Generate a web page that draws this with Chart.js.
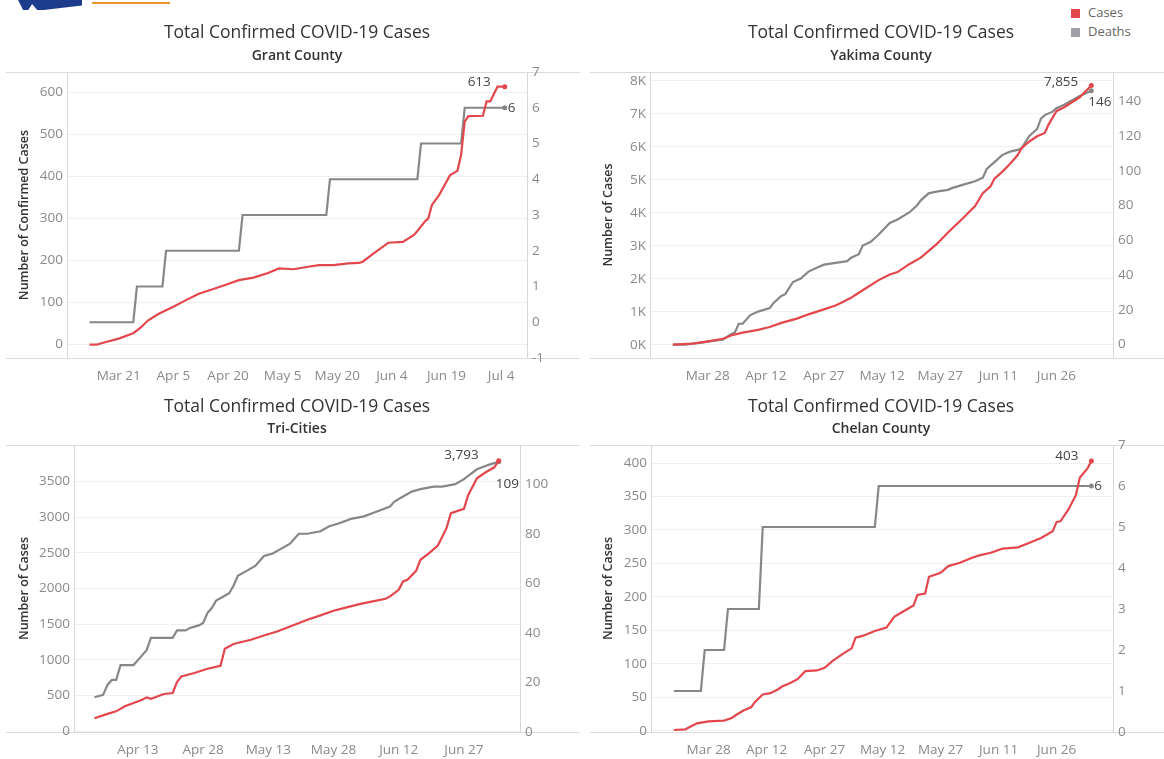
<!DOCTYPE html>
<html>
<head>
<meta charset="utf-8">
<title>Total Confirmed COVID-19 Cases</title>
<script src="https://cdn.jsdelivr.net/npm/chart.js@4.4.1/dist/chart.umd.min.js"></script>
<style>
  body { margin: 0; background: #fff; font-family: "Open Sans", sans-serif; }
  #page { position: relative; width: 1164px; height: 759px; overflow: hidden; background: #fff; }
  .panel { position: absolute; width: 580px; }
  .logo-blue { position: absolute; left: 18px; top: 0; width: 64px; height: 10px; background: #1d3c8c;
    clip-path: polygon(0 0, 100% 0, 100% 55%, 40% 100%, 30% 100%, 22% 40%, 16% 100%, 8% 100%); }
  .logo-orange { position: absolute; left: 92px; top: 2px; width: 78px; height: 2px; background: #e8942f; }
  #legend { position: absolute; left: 1071px; top: 3px; font-size: 13px; color: #666; line-height: 19px; }
  #legend .sw { display: inline-block; width: 9px; height: 9px; margin-right: 8px; vertical-align: -1px; }
</style>
</head>
<body>
<div id="page">
  <div class="logo-blue"></div>
  <div class="logo-orange"></div>
  <div id="legend">
    <div><span class="sw" style="background:#e2474d"></span>Cases</div>
    <div><span class="sw" style="background:#a0a0a8"></span>Deaths</div>
  </div>
  <div class="panel" style="left:0;top:0;height:390px"><canvas id="grantChart"></canvas></div>
  <div class="panel" style="left:584px;top:0;height:390px"><canvas id="yakimaChart"></canvas></div>
  <div class="panel" style="left:0;top:390px;height:369px"><canvas id="triChart"></canvas></div>
  <div class="panel" style="left:584px;top:390px;height:369px"><canvas id="chelanChart"></canvas></div>
</div>

<script>
// Grant County
const grantCaseDates = ["Mar 13", "Mar 15", "Mar 17", "Mar 21", "Mar 25", "Mar 27", "Mar 29", "Apr 1", "Apr 5", "Apr 9",
  "Apr 12", "Apr 16", "Apr 20", "Apr 23", "Apr 27", "May 1", "May 4", "May 8", "May 12", "May 15",
  "May 19", "May 23", "May 26", "May 27", "May 30", "Jun 3", "Jun 7", "Jun 10", "Jun 11", "Jun 13",
  "Jun 14", "Jun 15", "Jun 17", "Jun 20", "Jun 22", "Jun 23", "Jun 24", "Jun 25", "Jun 29", "Jun 30",
  "Jul 1", "Jul 3", "Jul 5"];
const grantCases = [0, 0, 5, 14, 27, 40, 57, 73, 90, 108,
  121, 132, 144, 153, 159, 170, 181, 179, 185, 189,
  189, 193, 194, 197, 217, 242, 244, 260, 270, 292,
  300, 332, 356, 403, 413, 451, 530, 543, 544, 578,
  578, 613, 613];
const grantDeathDates = ["Mar 13", "Mar 25", "Mar 26", "Apr 2", "Apr 3", "Apr 23", "Apr 24", "May 17", "May 18",
  "Jun 11", "Jun 12", "Jun 23", "Jun 24", "Jul 5"];
const grantDeaths = [0, 0, 1, 1, 2, 2, 3, 3, 4, 4, 5, 5, 6, 6];
const grantDateTicks = ["Mar 21", "Apr 5", "Apr 20", "May 5", "May 20", "Jun 4", "Jun 19", "Jul 4"];
const grantCaseTicks = [0, 100, 200, 300, 400, 500, 600];
const grantDeathTicks = [-1, 0, 1, 2, 3, 4, 5, 6, 7];

// Yakima County
const yakimaCaseDates = ["Mar 19", "Mar 24", "Mar 28", "Apr 1", "Apr 3", "Apr 6", "Apr 10", "Apr 13", "Apr 16", "Apr 20",
  "Apr 23", "Apr 27", "Apr 30", "May 2", "May 4", "May 5", "May 7", "May 11", "May 14", "May 16",
  "May 19", "May 22", "May 26", "May 29", "Jun 2", "Jun 5", "Jun 7", "Jun 9", "Jun 10", "Jun 12",
  "Jun 14", "Jun 16", "Jun 17", "Jun 19", "Jun 21", "Jun 23", "Jun 24", "Jun 26", "Jun 28", "Jul 2",
  "Jul 5"];
const yakimaCases = [0, 30, 100, 180, 280, 365, 450, 537, 660, 790,
  920, 1070, 1190, 1300, 1420, 1500, 1650, 1950, 2130, 2200,
  2440, 2640, 3040, 3400, 3850, 4200, 4590, 4800, 5030, 5240,
  5480, 5750, 5960, 6160, 6320, 6420, 6680, 7080, 7200, 7500,
  7855];
const yakimaDeathDates = ["Mar 19", "Mar 22", "Mar 26", "Mar 29", "Apr 1", "Apr 3", "Apr 4", "Apr 5", "Apr 6", "Apr 8",
  "Apr 10", "Apr 13", "Apr 14", "Apr 16", "Apr 17", "Apr 19", "Apr 21", "Apr 23", "Apr 25", "Apr 27",
  "Apr 30", "May 3", "May 4", "May 6", "May 7", "May 9", "May 11", "May 14", "May 16", "May 19",
  "May 21", "May 22", "May 24", "May 26", "May 29", "May 30", "Jun 2", "Jun 5", "Jun 7", "Jun 8",
  "Jun 10", "Jun 12", "Jun 14", "Jun 16", "Jun 17", "Jun 19", "Jun 21", "Jun 22", "Jun 23", "Jun 25",
  "Jun 26", "Jun 28", "Jul 2", "Jul 5"];
const yakimaDeaths = [0, 0, 1, 2, 3, 6, 7, 12, 12, 17,
  19, 21, 24, 28, 29, 36, 38, 42, 44, 46,
  47, 48, 50, 52, 57, 59, 63, 70, 72, 76,
  80, 83, 87, 88, 89, 90, 92, 94, 96, 101,
  105, 109, 111, 112, 113, 120, 124, 130, 132, 134,
  136, 138, 143, 146];
const yakimaDateTicks = ["Mar 28", "Apr 12", "Apr 27", "May 12", "May 27", "Jun 11", "Jun 26"];
const yakimaCaseTicks = [0, 1000, 2000, 3000, 4000, 5000, 6000, 7000, 8000];
const yakimaDeathTicks = [0, 20, 40, 60, 80, 100, 120, 140];

// Tri-Cities
const triCaseDates = ["Apr 3", "Apr 6", "Apr 8", "Apr 10", "Apr 12", "Apr 14", "Apr 15", "Apr 16", "Apr 19", "Apr 21",
  "Apr 22", "Apr 23", "Apr 26", "Apr 29", "May 2", "May 3", "May 5", "May 9", "May 12", "May 15",
  "May 18", "May 22", "May 25", "May 28", "May 31", "Jun 3", "Jun 6", "Jun 9", "Jun 10", "Jun 12",
  "Jun 13", "Jun 14", "Jun 16", "Jun 17", "Jun 19", "Jun 21", "Jun 23", "Jun 24", "Jun 27", "Jun 28",
  "Jun 30", "Jul 2", "Jul 4", "Jul 5"];
const triCases = [180, 240, 276, 346, 393, 439, 472, 453, 519, 533,
  687, 766, 813, 874, 916, 1154, 1220, 1280, 1341, 1397,
  1467, 1561, 1622, 1687, 1734, 1780, 1818, 1855, 1888, 1981,
  2098, 2122, 2248, 2402, 2495, 2603, 2846, 3056, 3117, 3313,
  3546, 3630, 3700, 3793];
const triDeathDates = ["Apr 3", "Apr 5", "Apr 6", "Apr 7", "Apr 8", "Apr 9", "Apr 12", "Apr 13", "Apr 15", "Apr 16",
  "Apr 21", "Apr 22", "Apr 24", "Apr 25", "Apr 27", "Apr 28", "Apr 29", "Apr 30", "May 1", "May 3",
  "May 4", "May 5", "May 6", "May 8", "May 10", "May 12", "May 14", "May 16", "May 18", "May 20",
  "May 22", "May 25", "May 27", "May 29", "Jun 1", "Jun 4", "Jun 7", "Jun 10", "Jun 11", "Jun 13",
  "Jun 15", "Jun 17", "Jun 20", "Jun 22", "Jun 25", "Jun 27", "Jun 30", "Jul 3", "Jul 5"];
const triDeaths = [14, 15, 19, 21, 21, 27, 27, 29, 33, 38,
  38, 41, 41, 42, 43, 44, 48, 50, 53, 55,
  56, 59, 63, 65, 67, 71, 72, 74, 76, 80,
  80, 81, 83, 84, 86, 87, 89, 91, 93, 95,
  97, 98, 99, 99, 100, 102, 106, 108, 109];
const triDateTicks = ["Apr 13", "Apr 28", "May 13", "May 28", "Jun 12", "Jun 27"];
const triCaseTicks = [0, 500, 1000, 1500, 2000, 2500, 3000, 3500];
const triDeathTicks = [0, 20, 40, 60, 80, 100];

// Chelan County
const chelanCaseDates = ["Mar 19", "Mar 22", "Mar 23", "Mar 25", "Mar 28", "Apr 1", "Apr 3", "Apr 4", "Apr 6", "Apr 8",
  "Apr 9", "Apr 11", "Apr 13", "Apr 15", "Apr 16", "Apr 18", "Apr 20", "Apr 22", "Apr 25", "Apr 27",
  "Apr 29", "May 2", "May 4", "May 5", "May 7", "May 10", "May 13", "May 15", "May 17", "May 20",
  "May 21", "May 23", "May 24", "May 27", "May 29", "Jun 1", "Jun 4", "Jun 6", "Jun 9", "Jun 12",
  "Jun 16", "Jun 19", "Jun 22", "Jun 25", "Jun 26", "Jun 27", "Jun 29", "Jul 1", "Jul 2", "Jul 4",
  "Jul 5"];
const chelanCases = [1, 2, 5, 11, 14, 15, 19, 23, 30, 35,
  43, 54, 56, 62, 66, 71, 77, 89, 90, 94,
  104, 116, 123, 139, 142, 149, 154, 170, 177, 187,
  203, 205, 230, 236, 246, 251, 258, 262, 266, 272,
  274, 281, 288, 298, 312, 313, 330, 352, 378, 392,
  403];
const chelanDeathDates = ["Mar 19", "Mar 26", "Mar 27", "Apr 1", "Apr 2", "Apr 10", "Apr 11", "May 10", "May 11", "Jul 5"];
const chelanDeaths = [1, 1, 2, 2, 3, 3, 5, 5, 6, 6];
const chelanDateTicks = ["Mar 28", "Apr 12", "Apr 27", "May 12", "May 27", "Jun 11", "Jun 26"];
const chelanCaseTicks = [0, 50, 100, 150, 200, 250, 300, 350, 400];
const chelanDeathTicks = [0, 1, 2, 3, 4, 5, 6, 7];

const FONT = '"Open Sans", "Noto Sans", sans-serif';
const RED = "#e2474d";
const GREY = "#878787";
const MONTHS = ["Jan", "Feb", "Mar", "Apr", "May", "Jun", "Jul", "Aug", "Sep", "Oct", "Nov", "Dec"];
const TITLE_SIZE = 17.5;
const SUB_SIZE = 14;

// day number in 2020, Jan 1 = 0
function dayOf(label) {
  const parts = label.split(" ");
  return (Date.UTC(2020, MONTHS.indexOf(parts[0]), +parts[1]) - Date.UTC(2020, 0, 1)) / 86400000;
}
function dayLabel(n) {
  const dt = new Date(Date.UTC(2020, 0, 1) + Math.round(n) * 86400000);
  return MONTHS[dt.getUTCMonth()] + " " + dt.getUTCDate();
}
function points(dates, values) {
  return dates.map((d, i) => ({ x: dayOf(d), y: values[i] }));
}

// grey rules above and below each pane
const panelLines = {
  id: "panelLines",
  beforeDraw(chart) {
    const { ctx, chartArea } = chart;
    ctx.save();
    ctx.strokeStyle = "#dadada";
    ctx.lineWidth = 1;
    [chartArea.top, chartArea.bottom].forEach((y) => {
      ctx.beginPath();
      ctx.moveTo(6, Math.round(y) + 0.5);
      ctx.lineTo(chart.width, Math.round(y) + 0.5);
      ctx.stroke();
    });
    ctx.restore();
  },
};

// value labels at the end of each line
const endLabels = {
  id: "endLabels",
  afterDatasetsDraw(chart) {
    const ctx = chart.ctx;
    chart.data.datasets.forEach((ds, i) => {
      const meta = chart.getDatasetMeta(i);
      const last = meta.data[meta.data.length - 1];
      const pos = ds.endLabel;
      ctx.save();
      ctx.font = "13.5px " + FONT;
      ctx.fillStyle = "#444";
      ctx.textAlign = pos.align;
      ctx.textBaseline = "middle";
      ctx.fillText(ds.data[ds.data.length - 1].y.toLocaleString("en-US"), last.x + pos.dx, last.y + pos.dy);
      ctx.restore();
    });
  },
};

function makeChart(id, p) {
  const isLast = (c) => c.dataIndex === c.dataset.data.length - 1;
  const tickFont = { family: FONT, size: 13.5 };
  const tHalf = (TITLE_SIZE * 1.2) / 2;
  const sHalf = (SUB_SIZE * 1.2) / 2;
  return new Chart(document.getElementById(id), {
    type: "line",
    data: {
      datasets: [
        {
          label: "Cases",
          data: points(p.caseDates, p.cases),
          yAxisID: "y",
          borderColor: RED,
          backgroundColor: RED,
          endLabel: p.caseLabel,
        },
        {
          label: "Deaths",
          data: points(p.deathDates, p.deaths),
          yAxisID: "y1",
          borderColor: GREY,
          backgroundColor: GREY,
          endLabel: p.deathLabel,
        },
      ],
    },
    options: {
      animation: false,
      responsive: true,
      maintainAspectRatio: false,
      events: [],
      layout: { padding: { left: 14, right: 0, top: 0, bottom: 0 } },
      elements: {
        line: { borderWidth: 2.2, tension: 0 },
        point: { radius: (c) => (isLast(c) ? 2.5 : 0), borderWidth: 0 },
      },
      plugins: {
        legend: { display: false },
        tooltip: { enabled: false },
        title: {
          display: true,
          text: "Total Confirmed COVID-19 Cases",
          color: "#333",
          font: { family: FONT, size: TITLE_SIZE, weight: "normal" },
          padding: { top: p.titleY - tHalf, bottom: 0 },
        },
        subtitle: {
          display: true,
          text: p.name,
          color: "#333",
          font: { family: FONT, size: SUB_SIZE, weight: "600" },
          padding: { top: p.subY - sHalf - (p.titleY + tHalf), bottom: p.area.top - p.subY - sHalf },
        },
      },
      scales: {
        x: {
          type: "linear",
          min: p.xMin,
          max: p.xMax,
          grid: { display: false },
          border: { display: false },
          afterBuildTicks: (s) => {
            s.ticks = p.dateTicks.map((d) => ({ value: dayOf(d) }));
          },
          afterFit: (s) => {
            s.height = s.chart.height - p.area.bottom;
          },
          ticks: {
            callback: (v) => dayLabel(v),
            color: "#8a8a8a",
            font: tickFont,
            padding: 2,
            autoSkip: false,
            maxRotation: 0,
          },
        },
        y: {
          position: "left",
          min: p.caseMin,
          max: p.caseMax,
          grid: { color: "#f0f0f0", drawTicks: false },
          border: { color: "#d8d8d8" },
          afterBuildTicks: (s) => {
            s.ticks = p.caseTicks.map((v) => ({ value: v }));
          },
          afterFit: (s) => {
            s.width = p.area.left - 14;
          },
          ticks: {
            callback: p.caseFormat,
            color: "#8a8a8a",
            font: tickFont,
            padding: 4,
          },
          title: {
            display: true,
            text: p.yTitle,
            color: "#333",
            font: { family: FONT, size: 12.5, weight: "600" },
            padding: { top: 3, bottom: 0 },
          },
        },
        y1: {
          position: "right",
          min: p.deathMin,
          max: p.deathMax,
          grid: { display: false, drawTicks: false },
          border: { color: "#d8d8d8" },
          afterBuildTicks: (s) => {
            s.ticks = p.deathTicks.map((v) => ({ value: v }));
          },
          afterFit: (s) => {
            s.width = s.chart.width - p.area.right;
          },
          ticks: {
            color: "#8a8a8a",
            font: tickFont,
            padding: 5,
          },
        },
      },
    },
    plugins: [panelLines, endLabels],
  });
}

const plain = (v) => String(v);

makeChart("grantChart", {
  name: "Grant County",
  yTitle: "Number of Confirmed Cases",
  caseDates: grantCaseDates, cases: grantCases,
  deathDates: grantDeathDates, deaths: grantDeaths,
  dateTicks: grantDateTicks, caseTicks: grantCaseTicks, deathTicks: grantDeathTicks,
  caseFormat: plain,
  xMin: 65.8, xMax: 192.1,
  caseMin: -32, caseMax: 648, deathMin: -1, deathMax: 7,
  area: { left: 67, right: 527, top: 72, bottom: 358 },
  titleY: 33, subY: 56,
  caseLabel: { align: "right", dx: -14, dy: -5 },
  deathLabel: { align: "left", dx: 3, dy: 0 },
});

makeChart("yakimaChart", {
  name: "Yakima County",
  yTitle: "Number of Cases",
  caseDates: yakimaCaseDates, cases: yakimaCases,
  deathDates: yakimaDeathDates, deaths: yakimaDeaths,
  dateTicks: yakimaDateTicks, caseTicks: yakimaCaseTicks, deathTicks: yakimaDeathTicks,
  caseFormat: (v) => v / 1000 + "K",
  xMin: 72.1, xMax: 191.6,
  caseMin: -404, caseMax: 8267, deathMin: -7.7, deathMax: 156.8,
  area: { left: 66, right: 529, top: 72, bottom: 358 },
  titleY: 33, subY: 56,
  caseLabel: { align: "right", dx: -13, dy: -3 },
  deathLabel: { align: "left", dx: -3, dy: 11 },
});

makeChart("triChart", {
  name: "Tri-Cities",
  yTitle: "Number of Cases",
  caseDates: triCaseDates, cases: triCases,
  deathDates: triDeathDates, deaths: triDeaths,
  dateTicks: triDateTicks, caseTicks: triCaseTicks, deathTicks: triDeathTicks,
  caseFormat: plain,
  xMin: 88.3, xMax: 190.9,
  caseMin: -14, caseMax: 4013, deathMin: 0, deathMax: 115.8,
  area: { left: 74, right: 520, top: 55, bottom: 342 },
  titleY: 16.7, subY: 39.3,
  caseLabel: { align: "right", dx: -20, dy: -6 },
  deathLabel: { align: "left", dx: -3, dy: 22 },
});

makeChart("chelanChart", {
  name: "Chelan County",
  yTitle: "Number of Cases",
  caseDates: chelanCaseDates, cases: chelanCases,
  deathDates: chelanDeathDates, deaths: chelanDeaths,
  dateTicks: chelanDateTicks, caseTicks: chelanCaseTicks, deathTicks: chelanDeathTicks,
  caseFormat: plain,
  xMin: 72.1, xMax: 191.6,
  caseMin: -2, caseMax: 427, deathMin: 0, deathMax: 7,
  area: { left: 67, right: 529, top: 55, bottom: 342 },
  titleY: 16.7, subY: 39.3,
  caseLabel: { align: "right", dx: -13, dy: -5 },
  deathLabel: { align: "left", dx: 3, dy: 0 },
});
</script>
</body>
</html>
